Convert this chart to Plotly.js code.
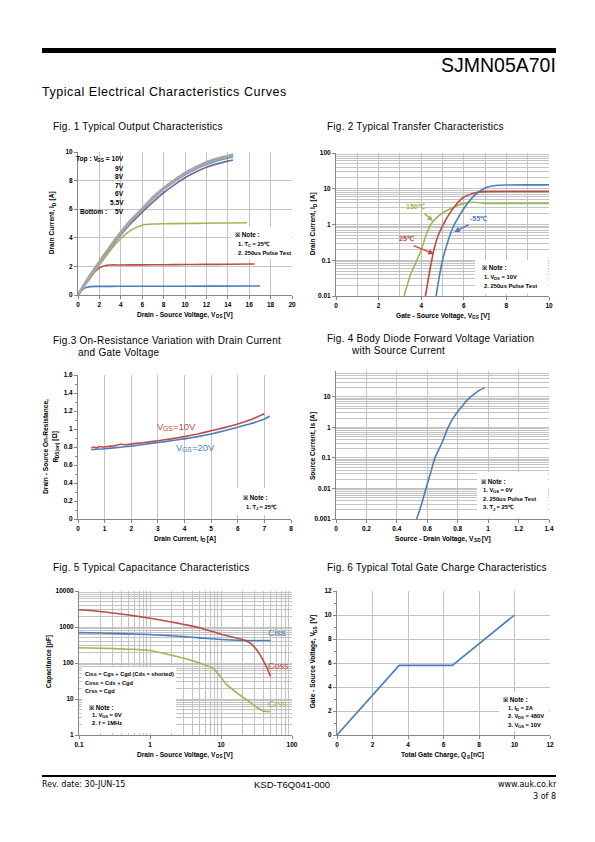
<!DOCTYPE html>
<html>
<head>
<meta charset="utf-8">
<script src="https://cdn.plot.ly/plotly-3.0.1.min.js"></script>
<style>
html,body{margin:0;padding:0;background:#fff;}
#chart{width:595px;height:842px;}
</style>
</head>
<body>
<div id="chart"></div>
<script>
// ---------- Fig. 1 Typical Output Characteristics : Vds [V] -> Id [A] ----------
const out10V_x = [0,1,2,3,4,5,6,7,8,9,10,11,12,13,14,14.5];
const out10V_y = [0,1.2,2.3,3.35,4.35,5.25,6.0,6.8,7.45,8.0,8.5,8.9,9.25,9.5,9.7,9.8];
const out9V_x  = [0,1,2,3,4,5,6,7,8,9,10,11,12,13,14,14.5];
const out9V_y  = [0,1.2,2.3,3.35,4.35,5.25,6.0,6.78,7.43,7.98,8.47,8.87,9.2,9.47,9.66,9.75];
const out8V_x  = [0,1,2,3,4,5,6,7,8,9,10,11,12,13,14,14.5];
const out8V_y  = [0,1.19,2.28,3.32,4.3,5.2,5.95,6.72,7.37,7.92,8.4,8.8,9.12,9.38,9.57,9.65];
const out7V_x  = [0,1,2,3,4,5,6,7,8,9,10,11,12,13,14,14.5];
const out7V_y  = [0,1.18,2.25,3.25,4.2,5.05,5.8,6.5,7.15,7.7,8.2,8.6,8.93,9.17,9.36,9.44];
const out6V_x  = [0,1,2,3,4,5,6,7,8,10,12,14,15.8];
const out6V_y  = [0,1.1,2.1,3.1,3.95,4.55,4.88,4.96,4.98,5.0,5.02,5.04,5.05];
const out55V_x = [0,0.5,1,1.5,2,2.5,3,4,6,8,10,12,14,16.5];
const out55V_y = [0,0.55,1.05,1.55,1.9,2.05,2.1,2.1,2.11,2.12,2.13,2.14,2.15,2.17];
const out5V_x  = [0,0.3,0.6,1,1.5,2,4,8,12,17];
const out5V_y  = [0,0.28,0.48,0.57,0.6,0.6,0.61,0.61,0.62,0.63];
const fig1Legend = ['9V','8V','7V','6V','5.5V'];

// ---------- Fig. 2 Typical Transfer Characteristics : Vgs [V] -> Id [A] ----------
const tr150_x = [3.2,3.5,3.8,4.0,4.25,4.5,4.75,5.0,5.5,6.0,6.5,7.0,8,9,10];
const tr150_y = [0.01,0.04,0.1,0.19,0.55,1.1,1.6,2.1,3.0,3.9,4.2,3.9,3.9,3.9,3.9];
const tr25_x  = [4.2,4.4,4.6,4.8,5.0,5.25,5.5,5.75,6.0,6.5,7.0,8,9,10];
const tr25_y  = [0.01,0.05,0.2,0.5,0.9,1.7,2.8,4.3,5.8,7.6,8.3,8.4,8.4,8.4];
const trM55_x = [4.7,4.85,5.0,5.25,5.5,5.75,6.0,6.5,7.0,7.5,8,9,10];
const trM55_y = [0.01,0.035,0.1,0.33,0.85,1.6,2.8,6.5,10.5,12.3,12.7,12.8,12.8];
const fig2YTicks = [0.01,0.1,1,10,100];
const fig2YLabels = ['0.01','0.1','1','10','100'];

// ---------- Fig. 3 On-Resistance vs Drain Current : Id [A] -> Rds(on) [Ohm] ----------
const ron10_x = [0.5,0.6,0.7,0.8,0.9,1.0,1.2,1.4,1.6,1.8,2.0,2.5,3,3.5,4,4.5,5,5.5,6,6.5,7.0];
const ron10_y = [0.79,0.80,0.79,0.805,0.80,0.80,0.81,0.815,0.83,0.825,0.835,0.85,0.87,0.89,0.915,0.945,0.98,1.015,1.055,1.105,1.17];
const ron20_x = [0.5,1,1.5,2,2.5,3,3.5,4,4.5,5,5.5,6,6.5,7,7.2];
const ron20_y = [0.77,0.78,0.795,0.81,0.83,0.85,0.87,0.89,0.915,0.945,0.98,1.02,1.06,1.11,1.145];

// ---------- Fig. 4 Body Diode Forward Voltage : Vsd [V] -> Is [A] ----------
const diode_vsd = [0.53,0.56,0.595,0.62,0.65,0.694,0.737,0.77,0.8,0.83,0.858,0.885,0.912,0.945,0.978];
const diode_is  = [0.001,0.0028,0.0116,0.03,0.1,0.29,1.0,2.0,3.3,5.0,7.4,10.0,12.8,16.5,20];
const fig4YTicks = [0.001,0.01,0.1,1,10];
const fig4YLabels = ['0.001','0.01','0.1','1','10'];

// ---------- Fig. 5 Capacitance : Vds [V] -> C [pF] ----------
const ciss_x = [0.1,0.2,0.3,0.5,1,2,3,5,10,20,30,50];
const ciss_y = [700,680,665,645,620,570,540,500,450,425,420,420];
const coss_x = [0.1,0.2,0.3,0.5,1,2,3,5,10,15,20,25,28,32,36,40,45,50];
const coss_y = [3000,2700,2450,2150,1750,1380,1180,950,630,520,450,370,310,230,160,110,70,42];
const crss_x = [0.1,0.2,0.3,0.5,1,2,3,5,7,8,9,10,11,12,15,20,25,30,40,50];
const crss_y = [265,258,252,242,222,165,135,100,78,68,52,40,31,25,17.5,11.5,8.4,6.4,4.6,4.5];
const fig5XTicks = [0.1,1,10,100];
const fig5XLabels = ['0.1','1','10','100'];
const fig5YTicks = [1,10,100,1000,10000];
const fig5YLabels = ['1','10','100','1000','10000'];

// ---------- Fig. 6 Total Gate Charge : Qg [nC] -> Vgs [V] ----------
const gate_qg  = [0,3.5,6.5,10];
const gate_vgs = [0,5.8,5.8,10];

// ================= drawing =================
const W = 595, H = 842;
const FONT = 'Liberation Sans, Arial, sans-serif';
const C = {blue:'#4a7ebb', red:'#be4b48', green:'#98b954', purple:'#7d60a0',
           cyan:'#46aac5', orange:'#f69240', gray:'#a5a5a5'};

// plot areas in page pixels: [left, top, right, bottom]
const area = {
  1:[78,152,292,295], 2:[336,153,549,296], 3:[78,375,291,519],
  4:[336,371,549,519], 5:[79,591,292,735], 6:[337,591,550,735]
};
const xDom = i => [area[i][0]/W, area[i][2]/W];
const yDom = i => [1-area[i][3]/H, 1-area[i][1]/H];

function logMinor(lo, hi){
  const v = [];
  for (let e = lo; e < hi; e++) for (let k = 2; k <= 9; k++) v.push(k*Math.pow(10,e));
  return v;
}

function ax(extra){
  return Object.assign({
    showline:true, linecolor:'#868686', linewidth:1,
    showgrid:true, gridcolor:'#c3c3c3', gridwidth:1,
    zeroline:false, ticks:'outside', ticklen:3, tickcolor:'#868686',
    tickfont:{family:FONT, size:6.5, color:'#000', weight:'bold'},
    fixedrange:true, automargin:false
  }, extra);
}

function line(x, y, xa, ya, color, width, shape){
  return {x:x, y:y, xaxis:xa, yaxis:ya, type:'scatter', mode:'lines',
    line:{color:color, width:width||1.6, shape:shape||'spline', smoothing:0.6},
    hoverinfo:'skip', showlegend:false};
}

const data = [
  line(out5V_x, out5V_y, 'x','y', C.blue),
  line(out55V_x, out55V_y, 'x','y', C.red),
  line(out6V_x, out6V_y, 'x','y', C.green),
  line(out7V_x, out7V_y, 'x','y', C.purple),
  line(out8V_x, out8V_y, 'x','y', C.cyan),
  line(out9V_x, out9V_y, 'x','y', C.orange),
  line(out10V_x, out10V_y, 'x','y', C.gray, 3.2),

  line(tr150_x, tr150_y, 'x2','y2', C.green),
  line(tr25_x, tr25_y, 'x2','y2', C.red),
  line(trM55_x, trM55_y, 'x2','y2', C.blue),

  line(ron20_x, ron20_y, 'x3','y3', C.blue),
  line(ron10_x, ron10_y, 'x3','y3', C.red),

  line(diode_vsd, diode_is, 'x4','y4', C.blue),

  line(ciss_x, ciss_y, 'x5','y5', C.blue),
  line(coss_x, coss_y, 'x5','y5', C.red),
  line(crss_x, crss_y, 'x5','y5', C.green),

  line(gate_qg, gate_vgs, 'x6','y6', C.blue, 1.6, 'linear')
];

// ---------- text: each run of text (and each subscript) is its own annotation ----------
const ctx = document.createElement('canvas').getContext('2d');
function tw(s, size, bold, family){
  ctx.font = (bold ? 'bold ' : '') + size + 'px ' + family;
  return ctx.measureText(s).width;
}
function parse(str){
  const out = []; const re = /_\{([^}]*)\}/g; let last = 0, m;
  while ((m = re.exec(str))) {
    if (m.index > last) out.push({t:str.slice(last, m.index)});
    out.push({t:m[1], sub:true});
    last = re.lastIndex;
  }
  if (last < str.length) out.push({t:str.slice(last)});
  return out;
}
const annotations = [];
function T(str, x, y, o){
  o = Object.assign({anchor:'left', size:10, bold:false, color:'#000', rotate:false, ls:0,
                     family:'"Liberation Sans", Arial, sans-serif'}, o || {});
  const parts = parse(str);
  const subSize = o.size * 0.72;
  const ws = parts.map(p => tw(p.t, p.sub ? subSize : o.size, o.bold, o.family) + o.ls*p.t.length);
  const total = ws.reduce((a, b) => a + b, 0);
  const frac = o.anchor === 'left' ? 0 : (o.anchor === 'center' ? 0.5 : 1);
  let cur = o.rotate ? y + total*frac : x - total*frac;
  parts.forEach((p, i) => {
    let t = p.t.replace(/^ /, '\u00a0').replace(/ $/, '\u00a0');
    if (o.ls) t = '<span style="letter-spacing:' + o.ls + 'px">' + t + '</span>';
    const font = {family:o.family, size:p.sub ? subSize : o.size, color:o.color,
                  weight:o.bold ? 'bold' : 'normal'};
    const drop = p.sub ? o.size*0.3 : 0;
    if (!o.rotate) {
      annotations.push({xref:'paper', yref:'paper', x:cur/W, y:1-(y+drop)/H, text:t,
        showarrow:false, xanchor:'left', yanchor:'middle', borderpad:0, borderwidth:0, font:font});
      cur += ws[i];
    } else {
      annotations.push({xref:'paper', yref:'paper', x:(x+drop)/W, y:1-cur/H, text:t, textangle:-90,
        showarrow:false, xanchor:'center', yanchor:'bottom', borderpad:0, borderwidth:0, font:font});
      cur -= ws[i];
    }
  });
}
const AX = {bold:true, size:6.6};
const NOTE = {bold:true, size:6.3};
const NL = {bold:true, size:5.8};
const DV = '"DejaVu Sans", sans-serif';
const FT = {ls:0.25};

// page header / footer
T('SJMN05A70I', 556, 65, {anchor:'right', size:19.5});
T('Typical Electrical Characteristics Curves', 42, 92, {size:12.5, ls:0.55});
T('Rev. date: 30-JUN-15', 42, 784, {size:8, family:DV});
T('KSD-T6Q041-000', 292, 784, {anchor:'center', size:9.5});
T('www.auk.co.kr', 556, 784, {anchor:'right', size:8, family:DV});
T('3 of 8', 556, 796, {anchor:'right', size:8, family:DV});

// figure titles
T('Fig. 1 Typical Output Characteristics', 53, 127, FT);
T('Fig. 2 Typical Transfer Characteristics', 327, 127, FT);
T('Fig.3 On-Resistance Variation with Drain Current', 53, 340, FT);
T('and Gate Voltage', 78, 352, FT);
T('Fig. 4 Body Diode Forward Voltage Variation', 327, 338, FT);
T('with Source Current', 351, 351, FT);
T('Fig. 5 Typical Capacitance Characteristics', 53, 567, FT);
T('Fig. 6 Typical Total Gate Charge Characteristics', 327, 567, {ls:0.17});

// axis titles
T('Drain - Source Voltage, V_{DS} [V]', 185, 315, Object.assign({anchor:'center'}, AX));
T('Drain Current, I_{D} [A]', 52, 223, Object.assign({anchor:'center', rotate:true}, AX));
T('Gate - Source Voltage, V_{GS} [V]', 443, 316, Object.assign({anchor:'center'}, AX));
T('Drain Current, I_{D} [A]', 313, 224, Object.assign({anchor:'center', rotate:true}, AX));
T('Drain Current, I_{D} [A]', 185, 539, Object.assign({anchor:'center'}, AX));
T('Drain - Source On-Resistance,', 46, 447, Object.assign({anchor:'center', rotate:true}, AX));
T('R_{DS(on)} [Ω]', 55, 447, Object.assign({anchor:'center', rotate:true}, AX));
T('Source - Drain Voltage, V_{SD} [V]', 443, 539, Object.assign({anchor:'center'}, AX));
T('Source Current, Is [A]', 313, 446, Object.assign({anchor:'center', rotate:true}, AX));
T('Drain - Source Voltage, V_{DS} [V]', 185, 755, Object.assign({anchor:'center'}, AX));
T('Capacitance [pF]', 49, 662, Object.assign({anchor:'center', rotate:true}, AX));
T('Total Gate Charge, Q_{g} [nC]', 443, 755, Object.assign({anchor:'center'}, AX));
T('Gate - Source Voltage, V_{GS} [V]', 313, 662, Object.assign({anchor:'center', rotate:true}, AX));

// Fig 1 legend and note
T('Top : V_{GS} = 10V', 123.5, 159, Object.assign({anchor:'right'}, AX));
fig1Legend.forEach((t, i) => T(t, 123.5, 168 + i*8.6, Object.assign({anchor:'right'}, AX)));
T('Bottom :', 80, 211, AX);
T('5V', 123.5, 211, Object.assign({anchor:'right'}, AX));
T('※ Note :', 235, 234, NOTE);
T('1. T_{C} = 25℃', 238, 244, NL);
T('2. 250us Pulse Test', 238, 253, NL);

// Fig 2 labels, arrows and note
T('150℃', 406, 206, {bold:true, size:7, color:C.green});
T('25℃', 399, 239, {bold:true, size:7, color:C.red});
T('-55℃', 470, 219, {bold:true, size:7, color:C.blue});
annotations.push(
  {xref:'x2', yref:'y2', x:4.55, y:Math.log10(1.25), ax:-10, ay:-9,
   text:'', showarrow:true, arrowhead:2, arrowsize:0.8, arrowwidth:1.4, arrowcolor:C.green},
  {xref:'x2', yref:'y2', x:4.6, y:Math.log10(0.15), ax:-22, ay:-9,
   text:'', showarrow:true, arrowhead:2, arrowsize:0.8, arrowwidth:1.4, arrowcolor:C.red},
  {xref:'x2', yref:'y2', x:5.55, y:Math.log10(0.62), ax:16, ay:-8,
   text:'', showarrow:true, arrowhead:2, arrowsize:0.8, arrowwidth:1.4, arrowcolor:C.blue});
T('※ Note :', 482, 268, NOTE);
T('1. V_{DS} = 10V', 484, 277, NL);
T('2. 250us Pulse Test', 484, 286, NL);

// Fig 3 labels and note
T('V_{GS}=10V', 157, 426, {size:9.5, color:C.red});
T('V_{GS}=20V', 176, 447, {size:9.5, color:C.blue});
T('※ Note :', 243, 497, NOTE);
T('1. T_{J} = 25℃', 246, 507, NL);

// Fig 4 note
T('※ Note :', 481, 481, NOTE);
T('1. V_{GS} = 0V', 483, 490, NL);
T('2. 250us Pulse Test', 483, 499, NL);
T('3. T_{J} = 25℃', 483, 507.5, NL);

// Fig 5 labels and text box
T('Ciss', 268, 633, {size:9, color:C.blue});
T('Coss', 268, 666, {size:9, color:C.red});
T('Crss', 268, 704, {size:9, color:C.green});
T('Ciss = Cgs + Cgd (Cds = shorted)', 85, 674, {bold:true, size:5.6});
T('Coss = Cds + Cgd', 85, 682.5, {bold:true, size:5.6});
T('Crss = Cgd', 85, 691, {bold:true, size:5.6});
T('※ Note :', 89, 707, NOTE);
T('1. V_{GS} = 0V', 92, 715, NL);
T('2. f = 1MHz', 92, 723, NL);

// Fig 6 note
T('※ Note :', 503, 699, NOTE);
T('1. I_{D} = 2A', 508, 708, NL);
T('2. V_{DS} = 480V', 508, 716, NL);
T('3. V_{GS} = 10V', 508, 724.5, NL);

// white boxes behind the notes (page pixel rectangles)
function box(l, t, r, b){
  return {type:'rect', xref:'paper', yref:'paper', layer:'above',
    x0:l/W, x1:r/W, y0:1-b/H, y1:1-t/H, fillcolor:'#ffffff', line:{width:0}};
}

const shapes = [
  {type:'rect', xref:'paper', yref:'paper', x0:42/W, x1:556/W, y0:1-53/H, y1:1-48/H,
   fillcolor:'#000', line:{width:0}},
  {type:'rect', xref:'paper', yref:'paper', x0:42/W, x1:556/W, y0:1-777/H, y1:1-775/H,
   fillcolor:'#000', line:{width:0}},
  box(231, 227, 291, 259),
  box(475, 260, 548, 294),
  box(237, 488, 290, 515),
  box(477, 472, 548, 518),
  box(82, 667, 176, 733),
  box(499, 692, 549, 731)
];

const layout = {
  width:W, height:H, margin:{l:0, r:0, t:0, b:0},
  paper_bgcolor:'#fff', plot_bgcolor:'rgba(0,0,0,0)',
  showlegend:false, font:{family:FONT},

  xaxis: ax({domain:xDom(1), anchor:'y', range:[0,20], dtick:2}),
  yaxis: ax({domain:yDom(1), anchor:'x', range:[0,10], dtick:2}),

  xaxis2: ax({domain:xDom(2), anchor:'y2', range:[0,10], dtick:2,
              minor:{dtick:1, showgrid:true, gridcolor:'#c3c3c3', ticks:''}}),
  yaxis2: ax({domain:yDom(2), anchor:'x2', type:'log', range:[-2,2],
              tickmode:'array', tickvals:fig2YTicks, ticktext:fig2YLabels,
              minor:{tickmode:'array', tickvals:logMinor(-2,2), showgrid:true, gridcolor:'#c3c3c3', ticks:''}}),

  xaxis3: ax({domain:xDom(3), anchor:'y3', range:[0,8], dtick:1}),
  yaxis3: ax({domain:yDom(3), anchor:'x3', range:[0,1.6], dtick:0.2, showgrid:false,
              minor:{dtick:0.1, ticks:'outside', ticklen:2, tickcolor:'#868686'}}),

  xaxis4: ax({domain:xDom(4), anchor:'y4', range:[0,1.4], dtick:0.2}),
  yaxis4: ax({domain:yDom(4), anchor:'x4', type:'log', range:[-3, Math.log10(70)],
              tickmode:'array', tickvals:fig4YTicks, ticktext:fig4YLabels,
              minor:{tickmode:'array', tickvals:logMinor(-3,2).filter(v => v <= 70), showgrid:true, gridcolor:'#c3c3c3', ticks:''}}),

  xaxis5: ax({domain:xDom(5), anchor:'y5', type:'log', range:[-1,2],
              tickmode:'array', tickvals:fig5XTicks, ticktext:fig5XLabels,
              minor:{tickmode:'array', tickvals:logMinor(-1,2), showgrid:true, gridcolor:'#c3c3c3', ticks:''}}),
  yaxis5: ax({domain:yDom(5), anchor:'x5', type:'log', range:[0,4],
              tickmode:'array', tickvals:fig5YTicks, ticktext:fig5YLabels,
              minor:{tickmode:'array', tickvals:logMinor(0,4), showgrid:true, gridcolor:'#c3c3c3', ticks:''}}),

  xaxis6: ax({domain:xDom(6), anchor:'y6', range:[0,12], dtick:2}),
  yaxis6: ax({domain:yDom(6), anchor:'x6', range:[0,12], dtick:2,
              minor:{dtick:1, ticks:'outside', ticklen:2, tickcolor:'#868686'}}),

  annotations: annotations,
  shapes: shapes
};

Plotly.newPlot('chart', data, layout, {staticPlot:true, displayModeBar:false});
</script>
</body>
</html>
